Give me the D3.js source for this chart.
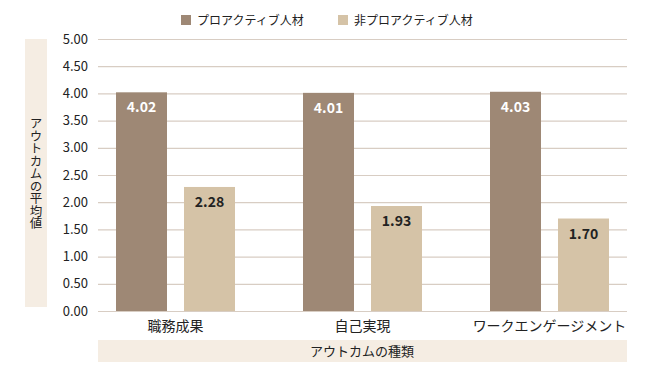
<!DOCTYPE html>
<html><head><meta charset="utf-8">
<script src="https://cdn.jsdelivr.net/npm/d3@7"></script>
<style>body{margin:0;background:#fff}svg{display:block;font-family:"Noto Sans CJK JP","Noto Sans",sans-serif}</style>
</head><body><svg id="c" width="650" height="374"></svg>
<script>
const categories = ["職務成果", "自己実現", "ワークエンゲージメント"];
const seriesNames = ["プロアクティブ人材", "非プロアクティブ人材"];
const proactive = [4.02, 4.01, 4.03];
const nonProactive = [2.28, 1.93, 1.70];
const yTicks = [0, 0.5, 1, 1.5, 2, 2.5, 3, 3.5, 4, 4.5, 5];
const colors = ["#9e8875", "#d5c3a7"];

const svg = d3.select("#c");
const y = d3.scaleLinear().domain([0, 5]).range([311, 39]);
const x0 = d3.scaleBand().domain(categories).range([82, 643]).paddingInner(0).paddingOuter(0);
const x1 = d3.scaleBand().domain([0, 1]).range([34, 153]).paddingInner(0.25);

// y title box
svg.append("rect").attr("x", 25).attr("y", 39).attr("width", 22).attr("height", 268).attr("fill", "#f5ede3");
svg.append("text").attr("x", 36).attr("y", 117).attr("font-size", 12.5).attr("fill", "#222")
  .style("writing-mode", "vertical-rl").style("text-orientation", "upright").attr("text-anchor", "start").text("アウトカムの平均値");

// x title box
svg.append("rect").attr("x", 98).attr("y", 340).attr("width", 529).attr("height", 22).attr("fill", "#f5ede3");
svg.append("text").attr("x", 362).attr("y", 356).attr("text-anchor", "middle").attr("font-size", 13).attr("fill", "#222").text("アウトカムの種類");

// gridlines
const yAxis = d3.axisLeft(y).tickValues(yTicks).tickFormat(d3.format(".2f")).tickSize(-529).tickPadding(10);
const g = svg.append("g").attr("transform", "translate(98,0)").call(yAxis);
g.select(".domain").remove();
g.selectAll(".tick line").attr("stroke", "#d8cdc3").attr("stroke-width", 1.2);
g.selectAll(".tick text").attr("font-size", 13).attr("fill", "#222").attr("font-family", "'Noto Sans CJK JP','Noto Sans',sans-serif");

// bars
const data = categories.map((c, i) => ({c, v: [proactive[i], nonProactive[i]]}));
const grp = svg.selectAll(".grp").data(data).join("g").attr("transform", d => `translate(${x0(d.c)},0)`);
grp.selectAll("rect").data(d => d.v.map((v, k) => ({v, k}))).join("rect")
  .attr("x", d => x1(d.k)).attr("width", x1.bandwidth())
  .attr("y", d => y(d.v)).attr("height", d => y(0) - y(d.v)).attr("fill", d => colors[d.k]);
grp.selectAll("text.val").data(d => d.v.map((v, k) => ({v, k}))).join("text").attr("class", "val")
  .attr("x", d => x1(d.k) + x1.bandwidth() / 2).attr("y", d => y(d.v) + 20)
  .attr("text-anchor", "middle").attr("font-size", 14).attr("font-weight", "bold")
  .attr("fill", d => d.k === 0 ? "#fff" : "#222").text(d => d.v.toFixed(2));

// category labels
svg.selectAll("text.cat").data(categories).join("text").attr("class", "cat")
  .attr("x", d => x0(d) + x0.bandwidth() / 2).attr("y", 331).attr("text-anchor", "middle")
  .attr("font-size", 14).attr("fill", "#222").text(d => d);

// legend
const legX = [181, 338];
seriesNames.forEach((n, i) => {
  svg.append("rect").attr("x", legX[i]).attr("y", 15).attr("width", 10).attr("height", 10).attr("fill", colors[i]);
  svg.append("text").attr("x", legX[i] + 16).attr("y", 24.5).attr("font-size", 12).attr("fill", "#222").text(n);
});
</script></body></html>
